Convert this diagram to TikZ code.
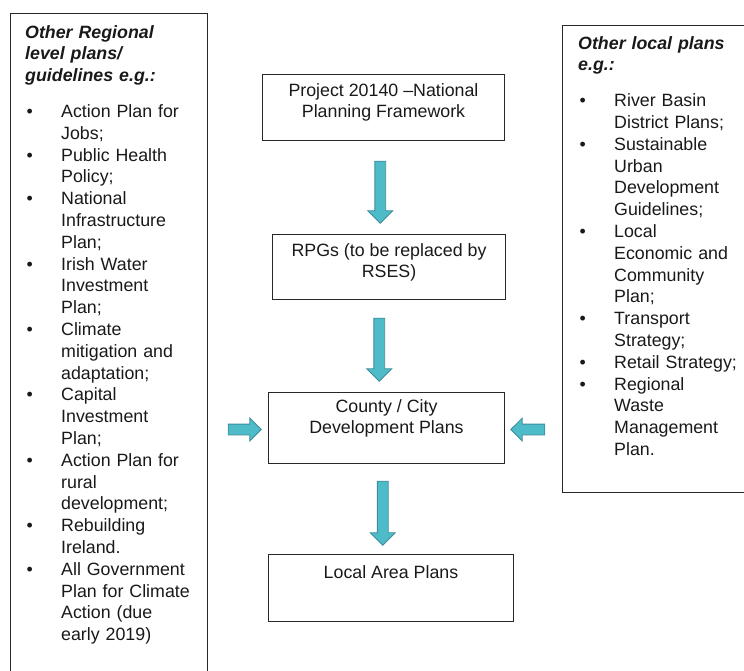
\documentclass[tikz,border=0pt]{standalone}
\usepackage{fontspec}
\setmainfont{Liberation Sans}
\usetikzlibrary{shapes.arrows,calc}
\definecolor{arrowfill}{RGB}{78,188,200}
\definecolor{arrowline}{RGB}{62,140,154}
\definecolor{boxline}{RGB}{40,40,40}
\definecolor{txt}{RGB}{25,25,25}
\newcommand{\bitem}[1]{\par\noindent\hangindent=36pt\hangafter=1\makebox[36pt][l]{\hspace{1.5pt}\textbullet}{\let\\\newline #1}\par}
\tikzset{
  planbox/.style={draw=boxline, line width=1pt, inner sep=0pt},
  boxtext/.style={text=txt, align=center, inner sep=0pt, font=\fontsize{17.8}{21.2}\selectfont},
  listtext/.style={text=txt, align=left, inner sep=0pt, anchor=base west,
    font=\fontsize{17.8}{21.8}\selectfont},
  blockarrow/.style={single arrow, draw=arrowline, fill=arrowfill, line width=0.8pt,
    inner sep=5pt, single arrow head extend=7pt, minimum width=24pt},
}
\begin{document}
\begin{tikzpicture}[x=1pt,y=-1pt]
\useasboundingbox (0,0) rectangle (744,670);
% side boxes
\node[planbox, minimum width=197, minimum height=677, anchor=north west] (left) at (10,13) {};
\node[planbox, minimum width=186, minimum height=467, anchor=north west] (right) at (562,25) {};
% left list
\node[listtext, text width=175] (lefttext) at (25,38) {%
{\bfseries\itshape Other Regional\\level plans/\\guidelines e.g.:\par}
\vspace{14pt}
\bitem{Action Plan for\\Jobs;}
\bitem{Public Health\\Policy;}
\bitem{National\\Infrastructure\\Plan;}
\bitem{Irish Water\\Investment\\Plan;}
\bitem{Climate\\mitigation and\\adaptation;}
\bitem{Capital\\Investment\\Plan;}
\bitem{Action Plan for\\rural\\development;}
\bitem{Rebuilding\\Ireland.}
\bitem{All Government\\Plan for Climate\\Action (due\\early 2019)}
};
% right list
\node[listtext, text width=165] (righttext) at (578,49) {%
{\bfseries\itshape Other local plans\\e.g.:\par}
\vspace{14pt}
\bitem{River Basin\\District Plans;}
\bitem{Sustainable\\Urban\\Development\\Guidelines;}
\bitem{Local\\Economic and\\Community\\Plan;}
\bitem{Transport\\Strategy;}
\bitem{Retail Strategy;}
\bitem{Regional\\Waste\\Management\\Plan.}
};
% centre boxes
\node[planbox, minimum width=242, minimum height=66, anchor=north west] (b1) at (262,74) {};
\node[planbox, minimum width=233, minimum height=65, anchor=north west] (b2) at (272,234) {};
\node[planbox, minimum width=236, minimum height=71, anchor=north west] (b3) at (268,392) {};
\node[planbox, minimum width=245, minimum height=67, anchor=north west] (b4) at (268,554) {};
\node[boxtext] (t1) at ([yshift=-28.5]b1.north) {Project 20140 –National\\Planning Framework};
\node[boxtext] (t2) at ([yshift=-28.5]b2.north) {RPGs (to be replaced by\\RSES)};
\node[boxtext] (t3) at ([yshift=-26.5]b3.north) {County / City\\Development Plans};
\node[boxtext] (t4) at ([yshift=-18]b4.north) {Local Area Plans};
% block arrows
\node[blockarrow, minimum height=62, rotate=-90] (a1) at ($($(b1.south)!0.5!(b2.north)$)+(-6,2)$) {};
\node[blockarrow, minimum height=63, rotate=-90] (a2) at ($($(b2.south)!0.5!(b3.north)$)+(-8.5,1)$) {};
\node[blockarrow, minimum height=64, rotate=-90] (a3) at ($($(b3.south)!0.5!(b4.north)$)+(-6,1.5)$) {};
\node[blockarrow, minimum height=33, minimum width=22pt, single arrow head extend=6pt] (a4) at ($(left.east|-b3.center)!0.5!(b3.west)+(4,1.5)$) {};
\node[blockarrow, minimum height=34, minimum width=22pt, single arrow head extend=6pt, rotate=180] (a5) at ($(b3.east)!0.5!(right.west|-b3.center)+(-3,1.5)$) {};
\end{tikzpicture}
\end{document}
